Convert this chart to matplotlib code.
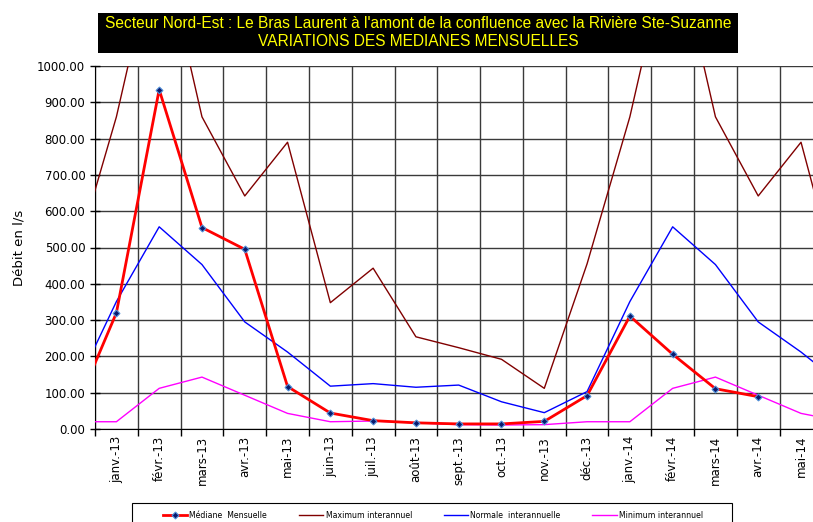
import matplotlib.pyplot as plt
import numpy as np
from matplotlib.patches import Rectangle
from matplotlib.ticker import FixedLocator, FormatStrFormatter


# months shown on the axis (janv.-13 .. mai-14)
MONTH_LABELS = [
    "janv.-13", "févr.-13", "mars-13", "avr.-13", "mai-13", "juin-13",
    "juil.-13", "août-13", "sept.-13", "oct.-13", "nov.-13", "déc.-13",
    "janv.-14", "févr.-14", "mars-14", "avr.-14", "mai-14",
]

# series run from déc.-12 (off the left edge) to juin-14 (off the right edge)
maximum = [455, 860, 1375, 860, 642, 790, 348, 443, 254, 224, 192, 112, 455,
           860, 1375, 860, 642, 790, 348]
normale = [103, 351, 557, 453, 295, 212, 118, 125, 115, 121, 75, 45, 103,
           351, 557, 453, 295, 212, 118]
minimum = [20, 20, 112, 143, 93, 43, 20, 22, 17, 12, 11, 12, 20,
           20, 112, 143, 93, 43, 20]
# median from déc.-12 to avr.-14
mediane = [42, 320, 935, 555, 495, 117, 44, 23, 17, 14, 14, 21, 92,
           311, 206, 111, 89]


def main() -> None:
    fig = plt.figure(figsize=(8.13, 5.22), dpi=100)
    ax = fig.add_axes([95 / 813, 1 - 429 / 522, 1 - 95 / 813, (429 - 66) / 522])

    x_stats = np.arange(-1, len(maximum) - 1)
    x_med = np.arange(-1, len(mediane) - 1)

    ax.plot(x_stats, maximum, color="#800000", lw=1.0, label="Maximum interannuel", zorder=3)
    ax.plot(x_stats, normale, color="#0000FF", lw=1.0, label="Normale  interannuelle", zorder=3)
    ax.plot(x_stats, minimum, color="#FF00FF", lw=1.0, label="Minimum interannuel", zorder=3)
    ax.plot(x_med, mediane, color="#FF0000", lw=2.0, marker="D", ms=3.5,
            mfc="#0a1a6e", mec="#4f8fd8", mew=0.8, label="Médiane  Mensuelle", zorder=4)

    ax.set_xlim(-0.5, 16.28)
    ax.set_ylim(0, 1000)

    ax.set_xticks(np.arange(len(MONTH_LABELS)))
    ax.set_xticklabels(MONTH_LABELS, rotation=90, fontsize=8.5)
    ax.xaxis.set_minor_locator(FixedLocator(np.arange(-0.5, 17, 1)))
    ax.tick_params(axis="x", which="major", length=0, pad=5)
    ax.tick_params(axis="x", which="minor", length=5, direction="out", width=1)

    ax.set_yticks(np.arange(0, 1001, 100))
    ax.yaxis.set_major_formatter(FormatStrFormatter("%.2f"))
    ax.tick_params(axis="y", which="major", length=7, direction="inout", labelsize=8.5, width=1)

    ax.grid(True, axis="y", which="major", color="#3a3a3a", lw=1.0)
    ax.grid(True, axis="x", which="minor", color="#3a3a3a", lw=1.0)
    ax.set_axisbelow(True)

    for side in ("top", "right"):
        ax.spines[side].set_visible(False)
    ax.spines["left"].set_color("black")
    ax.spines["bottom"].set_color("black")

    ax.set_ylabel("Débit en l/s", fontsize=9.5)
    ax.yaxis.set_label_coords(-70 / 718, 0.5)

    # title box
    fig.patches.append(Rectangle((98 / 813, 1 - 53 / 522), 640 / 813, 40 / 522,
                                 transform=fig.transFigure, facecolor="black",
                                 edgecolor="none"))
    fig.text(418 / 813, 1 - 24 / 522,
             "Secteur Nord-Est : Le Bras Laurent à l'amont de la confluence avec la Rivière Ste-Suzanne",
             color="#FFFF00", fontsize=11.2, family="Liberation Sans", ha="center", va="center")
    fig.text(418 / 813, 1 - 42 / 522, "VARIATIONS DES MEDIANES MENSUELLES",
             color="#FFFF00", fontsize=11.2, family="Liberation Sans", ha="center", va="center")

    # legend box, cut off by the bottom edge
    fig.patches.append(Rectangle((132 / 813, -0.05), 600 / 813, 0.05 + 1 - 503 / 522,
                                 transform=fig.transFigure, facecolor="white",
                                 edgecolor="black", lw=0.8))
    handles, labels = ax.get_legend_handles_labels()
    order = [3, 0, 1, 2]
    fig.legend([handles[i] for i in order], [labels[i] for i in order],
               loc="center", bbox_to_anchor=(433 / 813, 1 - 515 / 522), ncol=4,
               frameon=False, fontsize=5.6, handlelength=3.1, handletextpad=0.3,
               columnspacing=4.1, borderaxespad=0)

    fig.savefig("out.png", dpi=100)
    plt.close(fig)


if __name__ == "__main__":
    main()
